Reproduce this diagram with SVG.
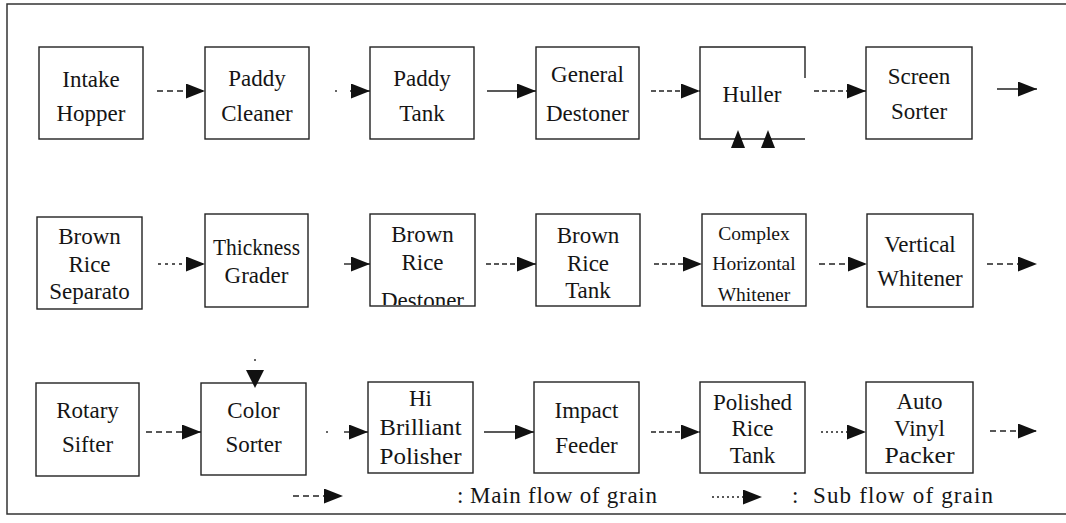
<svg xmlns="http://www.w3.org/2000/svg" width="1066" height="523" viewBox="0 0 1066 523">
<style>
.box{fill:#fff;stroke:#222;stroke-width:1.4}
.t{font-family:"Liberation Serif","Times New Roman",serif;font-size:23px;fill:#151515;text-anchor:middle}
.s{font-size:19.5px}
.c{fill:none;stroke:#222;stroke-width:1.4}
.d1{stroke-dasharray:6 4}
.d2{stroke-dasharray:5 3}
.d3{stroke-dasharray:3 4}
.d4{stroke-dasharray:2 3}
.head{fill:#111}
.frame{fill:none;stroke:#333;stroke-width:1.5}
.lg{font-family:"Liberation Serif","Times New Roman",serif;font-size:23px;fill:#151515}
</style>
<defs>
<marker id="ah" markerUnits="userSpaceOnUse" markerWidth="19" markerHeight="15" refX="19" refY="7.5" orient="auto">
<path d="M0,0 L19,7.5 L0,15 Z" fill="#111"/>
</marker>
<clipPath id="clipBRD"><rect x="370" y="214" width="105" height="91"/></clipPath>
</defs>
<rect width="1066" height="523" fill="#fff"/>
<g id="frame">
<path class="frame" d="M1066,4 H7 V514 H1066"/>
</g>

<g id="intake-hopper"><rect class="box" x="39" y="47" width="104" height="92"/>
<text class="t" x="91" y="87">Intake</text><text class="t" x="91" y="121">Hopper</text></g>
<g id="paddy-cleaner"><rect class="box" x="205" y="47" width="104" height="92"/>
<text class="t" x="257" y="86">Paddy</text><text class="t" x="257" y="121">Cleaner</text></g>
<g id="paddy-tank"><rect class="box" x="370" y="47" width="104" height="92"/>
<text class="t" x="422" y="86">Paddy</text><text class="t" x="422" y="121">Tank</text></g>
<g id="general-destoner"><rect class="box" x="536" y="47" width="103" height="92"/>
<text class="t" x="587.5" y="82">General</text><text class="t" x="587.5" y="121">Destoner</text></g>
<g id="huller"><rect x="700" y="47" width="105" height="92" fill="#fff"/>
<path class="box" style="fill:none" d="M805,78 V47 H700 V139 H805"/>
<text class="t" x="752" y="102">Huller</text></g>
<g id="screen-sorter"><rect class="box" x="866" y="47" width="106" height="92"/>
<text class="t" x="919" y="84">Screen</text><text class="t" x="919" y="119">Sorter</text></g>

<g id="brown-rice-separator"><rect class="box" x="37" y="217" width="105" height="92"/>
<text class="t" x="89.5" y="244">Brown</text><text class="t" x="89.5" y="272">Rice</text><text class="t" x="89.5" y="299">Separato</text></g>
<g id="thickness-grader"><rect class="box" x="205" y="214" width="103" height="93"/>
<text class="t" x="256.5" y="255" textLength="87" lengthAdjust="spacingAndGlyphs">Thickness</text><text class="t" x="256.5" y="283">Grader</text></g>
<g id="brown-rice-destoner"><rect x="370" y="214" width="105" height="92" fill="#fff"/>
<text class="t" x="422.5" y="242">Brown</text><text class="t" x="422.5" y="270">Rice</text>
<text class="t" x="422.5" y="308" clip-path="url(#clipBRD)">Destoner</text>
<rect class="box" style="fill:none" x="370" y="214" width="105" height="92"/></g>
<g id="brown-rice-tank"><rect class="box" x="536" y="214" width="104" height="92"/>
<text class="t" x="588" y="243">Brown</text><text class="t" x="588" y="271">Rice</text><text class="t" x="588" y="298">Tank</text></g>
<g id="complex-horizontal-whitener"><rect class="box" x="702" y="214" width="104" height="92"/>
<text class="t s" x="754" y="240">Complex</text><text class="t s" x="754" y="270">Horizontal</text><text class="t s" x="754" y="301">Whitener</text></g>
<g id="vertical-whitener"><rect class="box" x="867" y="214" width="106" height="93"/>
<text class="t" x="920" y="252">Vertical</text><text class="t" x="920" y="286">Whitener</text></g>

<g id="rotary-sifter"><rect class="box" x="36" y="383" width="103" height="93"/>
<text class="t" x="87.5" y="418">Rotary</text><text class="t" x="87.5" y="452">Sifter</text></g>
<g id="color-sorter"><rect class="box" x="201" y="383" width="105" height="92"/>
<text class="t" x="253.5" y="418">Color</text><text class="t" x="253.5" y="452">Sorter</text></g>
<g id="hi-brilliant-polisher"><rect class="box" x="368" y="382" width="105" height="91"/>
<text class="t" x="420.5" y="406">Hi</text><text class="t" x="420.5" y="435" textLength="82" lengthAdjust="spacingAndGlyphs">Brilliant</text><text class="t" x="420.5" y="464" textLength="82" lengthAdjust="spacingAndGlyphs">Polisher</text></g>
<g id="impact-feeder"><rect class="box" x="534" y="382" width="105" height="91"/>
<text class="t" x="586.5" y="418">Impact</text><text class="t" x="586.5" y="453">Feeder</text></g>
<g id="polished-rice-tank"><rect class="box" x="700" y="382" width="105" height="91"/>
<text class="t" x="752.5" y="410">Polished</text><text class="t" x="752.5" y="436">Rice</text><text class="t" x="752.5" y="463">Tank</text></g>
<g id="auto-vinyl-packer"><rect class="box" x="866" y="382" width="107" height="91"/>
<text class="t" x="919.5" y="409">Auto</text><text class="t" x="919.5" y="436">Vinyl</text><text class="t" x="919.5" y="463" textLength="70" lengthAdjust="spacingAndGlyphs">Packer</text></g>

<g id="connectors">
<line class="c d1" x1="157" y1="91" x2="205" y2="91" marker-end="url(#ah)"/>
<circle cx="336" cy="91" r="1" fill="#333"/>
<line class="c" x1="350" y1="91" x2="370" y2="91" marker-end="url(#ah)"/>
<line class="c" x1="487" y1="91" x2="536" y2="91" marker-end="url(#ah)"/>
<line class="c d2" x1="651" y1="91" x2="700" y2="91" marker-end="url(#ah)"/>
<line class="c d2" x1="814" y1="91" x2="866" y2="91" marker-end="url(#ah)"/>
<line class="c" x1="997" y1="89" x2="1037" y2="89" marker-end="url(#ah)"/>
<polygon class="head" points="731,148 745,148 738,130"/>
<polygon class="head" points="761,148 775,148 768,130"/>

<line class="c d3" x1="158" y1="264" x2="205" y2="264" marker-end="url(#ah)"/>
<line class="c" x1="344" y1="264" x2="370" y2="264" marker-end="url(#ah)"/>
<line class="c d2" x1="486" y1="264" x2="536" y2="264" marker-end="url(#ah)"/>
<line class="c d2" x1="654" y1="264" x2="702" y2="264" marker-end="url(#ah)"/>
<line class="c d1" x1="819" y1="264" x2="867" y2="264" marker-end="url(#ah)"/>
<line class="c d1" x1="987" y1="264" x2="1037" y2="264" marker-end="url(#ah)"/>

<line class="c d1" x1="146" y1="432" x2="201" y2="432" marker-end="url(#ah)"/>
<circle cx="327" cy="432" r="1" fill="#333"/>
<line class="c" x1="344" y1="432" x2="368" y2="432" marker-end="url(#ah)"/>
<line class="c" x1="484" y1="432" x2="534" y2="432" marker-end="url(#ah)"/>
<line class="c d2" x1="651" y1="432" x2="700" y2="432" marker-end="url(#ah)"/>
<line class="c d4" x1="821" y1="432" x2="866" y2="432" marker-end="url(#ah)"/>
<line class="c d1" x1="990" y1="431" x2="1037" y2="431" marker-end="url(#ah)"/>
<circle cx="255" cy="360" r="1" fill="#333"/>
<polygon class="head" points="246,370 264,370 255,388"/>

<line class="c d1" x1="293" y1="496" x2="343" y2="496" marker-end="url(#ah)"/>
<line class="c d4" x1="712" y1="497" x2="762" y2="497" marker-end="url(#ah)"/>
</g>
<g id="legend">
<text class="lg" x="457" y="503">:</text>
<text class="lg" x="470" y="503" textLength="187" lengthAdjust="spacing">Main flow of grain</text>
<text class="lg" x="792" y="503">:</text>
<text class="lg" x="813" y="503" textLength="180" lengthAdjust="spacing">Sub flow of grain</text>
</g>
</svg>
